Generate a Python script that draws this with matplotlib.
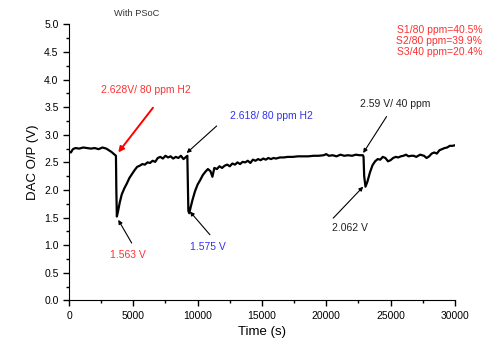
import matplotlib
matplotlib.use("Agg")
import matplotlib.pyplot as plt
from matplotlib.ticker import MultipleLocator

# time (s) and DAC output (V)
time_s = [0, 150, 300, 500, 800, 1100, 1400, 1700, 2000, 2300, 2600, 2900,
          3100, 3300, 3500, 3650, 3680, 3720, 3800, 3950, 4100, 4300, 4500,
          4700, 4900, 5100, 5300, 5500, 5700, 5900, 6100, 6300, 6500, 6700,
          6900, 7100, 7300, 7500, 7700, 7900, 8100, 8300, 8500, 8700, 8900,
          9100, 9200, 9230, 9280, 9350, 9450, 9600, 9800, 10000, 10200, 10400,
          10600, 10800, 11000, 11150, 11300, 11500, 11700, 11900, 12100, 12300,
          12500, 12700, 12900, 13100, 13300, 13500, 13700, 13900, 14100, 14300,
          14500, 14700, 14900, 15100, 15300, 15500, 15700, 15900, 16100, 16400,
          16700, 17000, 17400, 17800, 18200, 18600, 19000, 19400, 19800, 20000,
          20200, 20500, 20800, 21100, 21400, 21700, 22000, 22300, 22600, 22850,
          22900, 22950, 23050, 23200, 23400, 23600, 23800, 24000, 24200, 24400,
          24600, 24800, 25000, 25200, 25400, 25600, 25800, 26000, 26200, 26400,
          26600, 26800, 27000, 27300, 27600, 27800, 28000, 28200, 28400, 28600,
          28800, 29000, 29200, 29400, 29600, 29800, 30000]
dac_v = [2.70, 2.68, 2.74, 2.76, 2.75, 2.77, 2.76, 2.75, 2.76, 2.74, 2.77, 2.75,
         2.72, 2.69, 2.65, 2.62, 2.00, 1.52, 1.60, 1.78, 1.92, 2.03, 2.12,
         2.22, 2.29, 2.36, 2.42, 2.44, 2.47, 2.46, 2.50, 2.49, 2.53, 2.51,
         2.58, 2.60, 2.57, 2.62, 2.59, 2.61, 2.57, 2.60, 2.58, 2.62, 2.56,
         2.60, 2.62, 2.20, 1.62, 1.58, 1.68, 1.82, 1.98, 2.10, 2.18, 2.27,
         2.33, 2.38, 2.34, 2.24, 2.40, 2.38, 2.43, 2.40, 2.44, 2.46,
         2.43, 2.48, 2.46, 2.50, 2.47, 2.51, 2.50, 2.53, 2.49, 2.55,
         2.53, 2.56, 2.54, 2.57, 2.55, 2.58, 2.56, 2.58, 2.57, 2.59,
         2.59, 2.60, 2.60, 2.61, 2.61, 2.61, 2.62, 2.62, 2.63, 2.65,
         2.62, 2.63, 2.61, 2.64, 2.62, 2.63, 2.62, 2.64, 2.63, 2.63,
         2.60, 2.25, 2.06, 2.15, 2.32, 2.45, 2.52, 2.56, 2.55, 2.60,
         2.58, 2.52, 2.54, 2.58, 2.60, 2.59, 2.61, 2.62, 2.64, 2.61,
         2.62, 2.62, 2.60, 2.64, 2.62, 2.58, 2.61, 2.66, 2.68, 2.66,
         2.72, 2.74, 2.76, 2.77, 2.80, 2.80, 2.81]

summary = ["S1/80 ppm=40.5%", "S2/80 ppm=39.9%", "S3/40 ppm=20.4%"]

# label, text position, arrow tail, arrow head, text colour, arrow colour
notes = [
    ("2.628V/ 80 ppm H2", (5985, 3.81), (6528, 3.49), (3830, 2.68), "#ff3030", "red"),
    ("1.563 V", (4585, 0.82), (4873, 1.04), (3830, 1.46), "#ff3030", "black"),
    ("2.618/ 80 ppm H2", (15777, 3.34), (11480, 3.16), (9147, 2.67), "#3333ee", "black"),
    ("1.575 V", (10803, 0.97), (10958, 1.19), (9404, 1.61), "#3333ee", "black"),
    ("2.062 V", (21839, 1.31), (20541, 1.49), (22872, 2.06), "#222222", "black"),
    ("2.59 V/ 40 ppm", (25336, 3.56), (24690, 3.33), (22872, 2.67), "#222222", "black"),
]

plt.rcParams["font.family"] = ["Liberation Sans", "DejaVu Sans"]

fig = plt.figure(figsize=(4.87, 3.43), dpi=100)
ax = fig.add_axes([0.1417, 0.124, 0.7923, 0.805])
ax.plot(time_s, dac_v, color="black", lw=1.6)

ax.set_xlim(0, 30000)
ax.set_ylim(0, 5.0)
ax.xaxis.set_major_locator(MultipleLocator(5000))
ax.xaxis.set_minor_locator(MultipleLocator(2500))
ax.yaxis.set_major_locator(MultipleLocator(0.5))
ax.yaxis.set_minor_locator(MultipleLocator(0.25))
ax.yaxis.set_major_formatter(plt.FormatStrFormatter("%.1f"))
ax.tick_params(which="both", direction="out", labelsize=7.5, width=1)
ax.tick_params(which="major", length=4)
ax.tick_params(which="minor", length=2.5)
for s in ["top", "right"]:
    ax.spines[s].set_visible(False)
ax.set_xlabel("Time (s)", fontsize=9.5)
ax.set_ylabel("DAC O/P (V)", fontsize=9.5)

fig.text(0.281, 0.962, "With PSoC", fontsize=6.7, color="#333333", ha="center", va="center")
fig.text(0.99, 0.88, "\n".join(summary), fontsize=7.5, color="#ff3030",
         ha="right", va="center", linespacing=1.1)

for label, txt, tail, head, tc, ac in notes:
    ax.text(txt[0], txt[1], label, color=tc, fontsize=7.5, ha="center", va="center")
    red = ac == "red"
    ax.annotate("", xy=head, xytext=tail,
                arrowprops=dict(arrowstyle="-|>", color=ac, lw=1.4 if red else 0.8,
                                mutation_scale=8 if red else 6,
                                shrinkA=0, shrinkB=0))

fig.savefig("out.png", dpi=100)
